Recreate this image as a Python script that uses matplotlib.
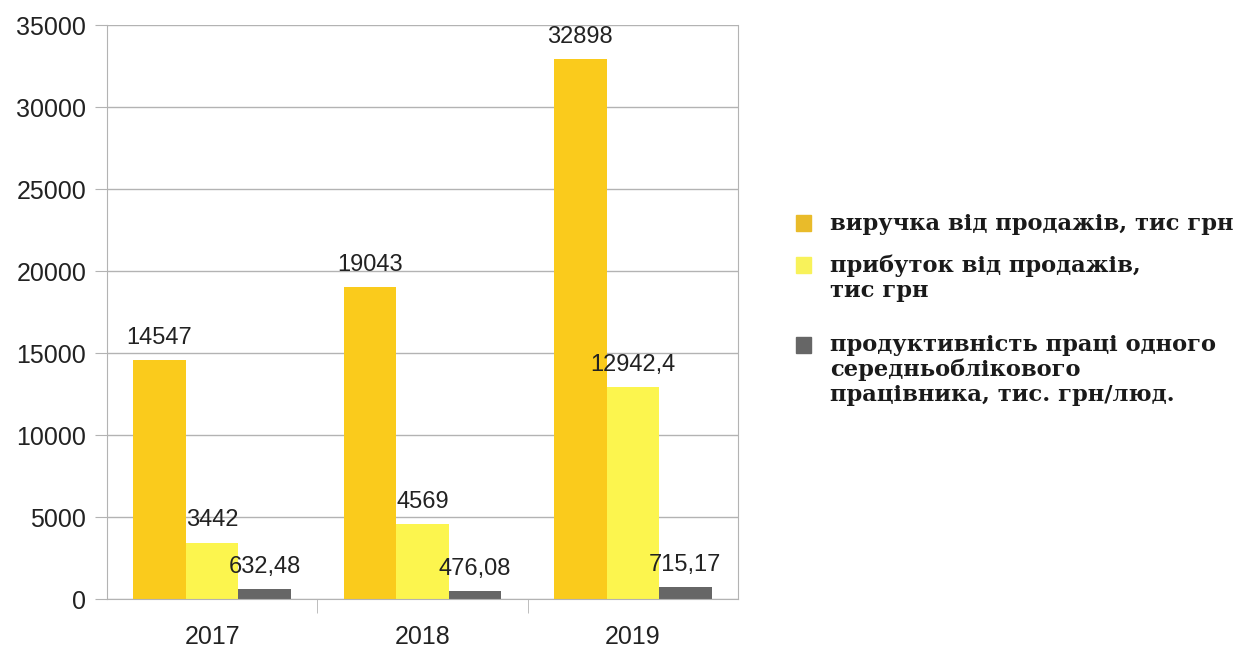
import matplotlib

matplotlib.use("Agg")
import matplotlib.pyplot as plt
from matplotlib.patches import Rectangle
import numpy as np

YEARS = ["2017", "2018", "2019"]
REVENUE = [14547, 19043, 32898]
PROFIT = [3442, 4569, 12942.4]
PRODUCTIVITY = [632.48, 476.08, 715.17]
SERIES = [
    "виручка від продажів, тис грн",
    "прибуток від продажів,\nтис грн",
    "продуктивність праці одного\nсередньоблікового\nпрацівника, тис. грн/люд.",
]
COLORS = ["#FACB1C", "#FCF54E", "#666666"]
LEG_COLORS = ["#E9BB2A", "#F8F25A", "#666666"]

plt.rcParams["font.family"] = ["Liberation Sans", "DejaVu Sans"]

fig = plt.figure(figsize=(12.43, 6.48), dpi=100)
ax = fig.add_axes([0.0861, 0.0756, 0.5076, 0.8858])

x = np.arange(len(YEARS))
w = 0.25
for j, (vals, color) in enumerate(zip([REVENUE, PROFIT, PRODUCTIVITY], COLORS)):
    xs = x + (j - 1) * w
    ax.bar(xs, vals, w, color=color, zorder=2)
    for xi, v in zip(xs, vals):
        ax.annotate(f"{v:g}".replace(".", ","), (xi, v), xytext=(0, 8),
                    textcoords="offset points", ha="center", va="bottom",
                    fontsize=17, color="#222222", zorder=3)

ax.set_xlim(-0.5, 2.5)
ax.set_ylim(0, 35000)
ax.set_yticks(range(0, 35001, 5000))
ax.set_xticks(x)
ax.set_xticklabels(YEARS)
ax.set_xticks([0.5, 1.5], minor=True)
ax.tick_params(axis="x", which="major", length=0, labelsize=18, pad=19, colors="#222222")
ax.tick_params(axis="x", which="minor", length=10, color="#b3b3b3")
ax.tick_params(axis="y", length=9, color="#b3b3b3", labelsize=18, pad=6, labelcolor="#222222")
ax.grid(axis="y", color="#b3b3b3", linewidth=1, zorder=0)
for s in ax.spines.values():
    s.set_color("#b3b3b3")
ax.spines["top"].set_visible(False)

# legend drawn by hand so each marker sits on its first text line
leg_y = [0.656, 0.591, 0.468]
for y, lab, c in zip(leg_y, SERIES, LEG_COLORS):
    fig.patches.append(Rectangle((0.640, y - 0.012), 0.0125, 0.024,
                                 transform=fig.transFigure, color=c))
    fig.text(0.668, y + 0.016, lab, ha="left", va="top", fontsize=16.3,
             family="DejaVu Serif", fontweight="bold", color="#1a1a1a",
             linespacing=1.15)

fig.savefig("out.png", dpi=100)
